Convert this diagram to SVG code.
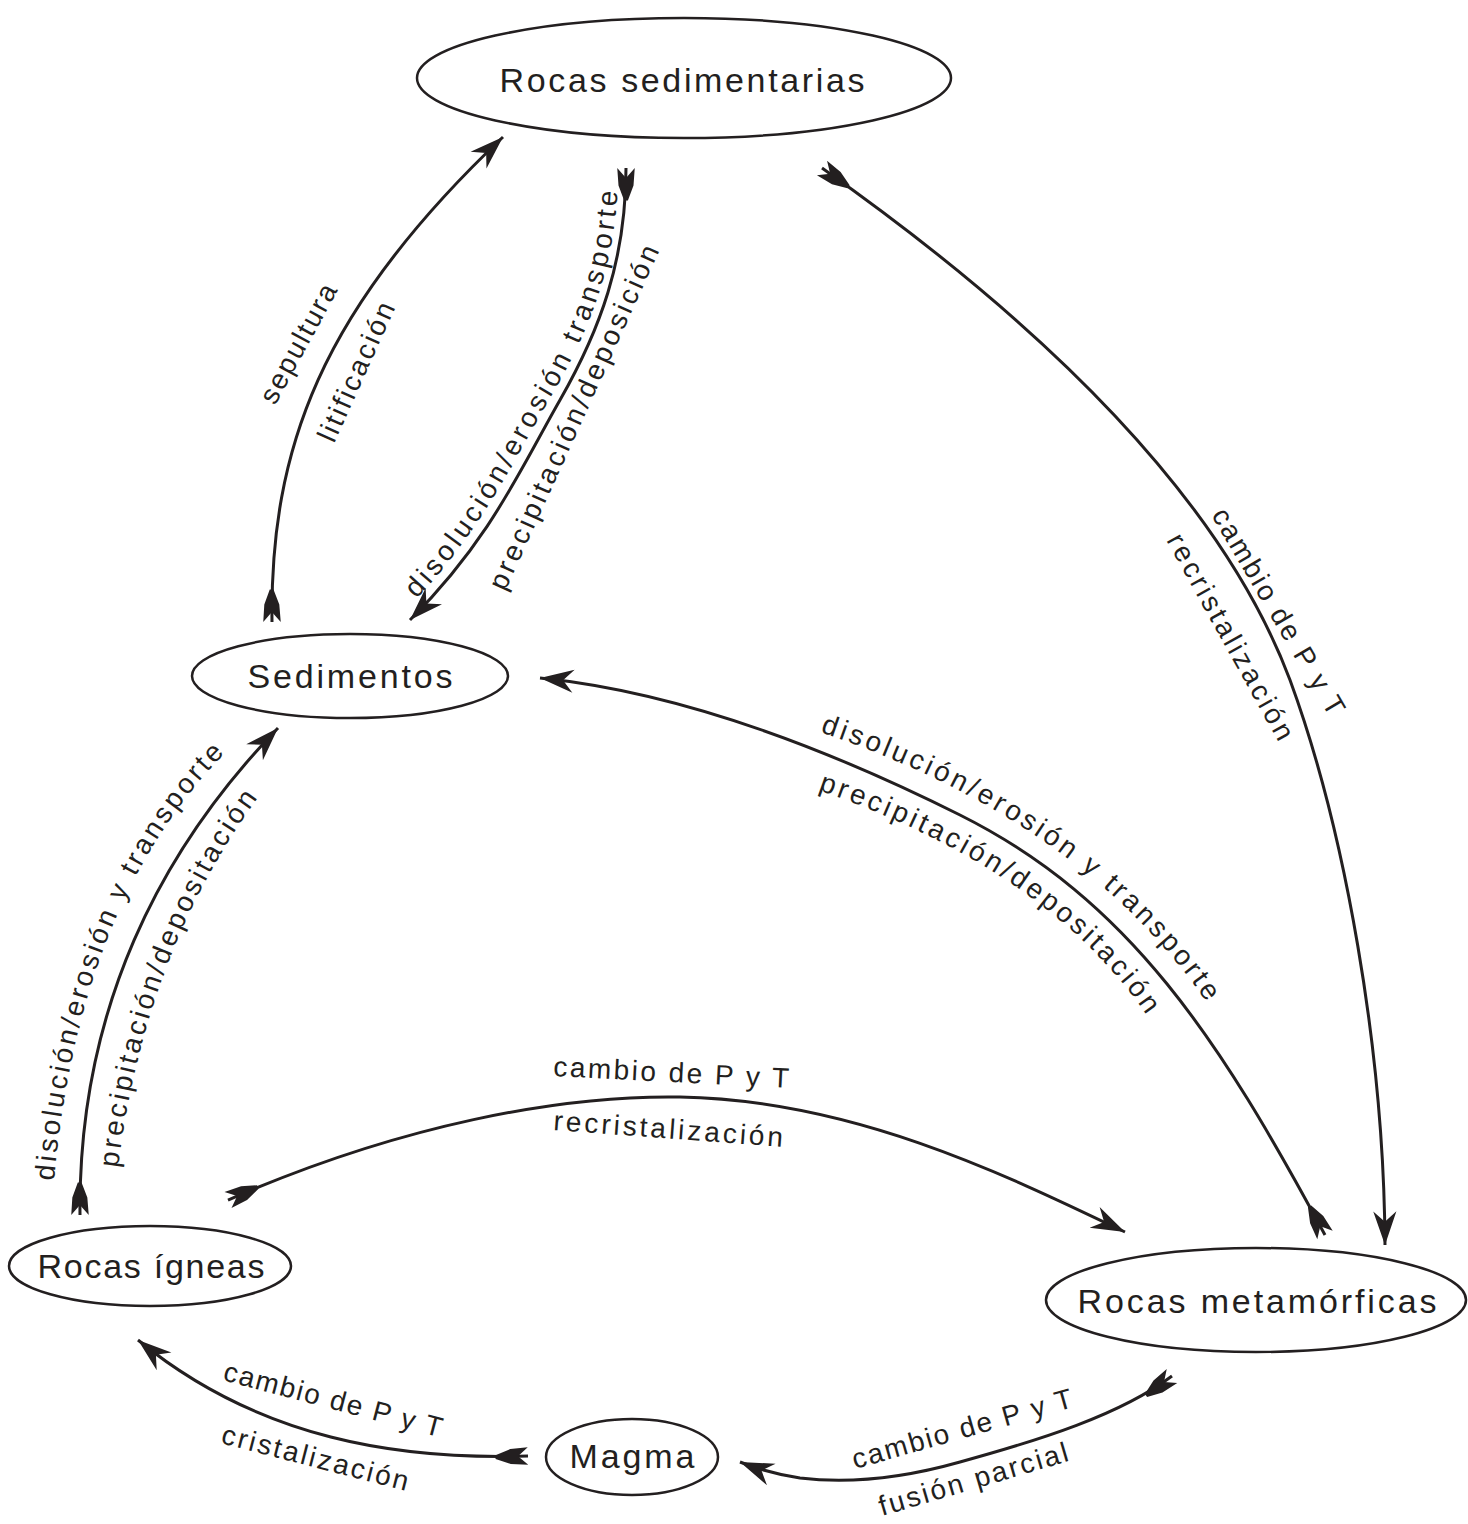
<svg xmlns="http://www.w3.org/2000/svg" xmlns:xlink="http://www.w3.org/1999/xlink" width="1468" height="1524" viewBox="0 0 1468 1524">
<style>
.node{fill:#fff;stroke:#231f20;stroke-width:2.5}
.nt{font-family:"Liberation Sans",Arial,sans-serif;font-size:34px;fill:#231f20;text-anchor:middle}
.el{font-family:"Liberation Sans",Arial,sans-serif;font-size:28px;fill:#231f20}
.c{fill:none;stroke:#231f20;stroke-width:3;marker-start:url(#tail);marker-end:url(#head)}
</style>
<defs>
<marker id="head" markerUnits="userSpaceOnUse" orient="auto" markerWidth="40" markerHeight="30" refX="0" refY="0" viewBox="-34 -14 38 28" overflow="visible">
<path d="M0,0 L-32,-11 L-22,0 L-32,11 Z" fill="#231f20"/>
</marker>
<marker id="tail" markerUnits="userSpaceOnUse" orient="auto" markerWidth="40" markerHeight="30" refX="0" refY="0" viewBox="-2 -10 32 20" overflow="visible">
<path d="M0,-7 L8,0 L0,7 L14,6 L26,1.5 L26,-1.5 L14,-6 Z" fill="#231f20"/>
</marker>
<path id="p1" d="M275,406 L338,290"/>
<path id="p2" d="M334,444 L397,304"/>
<path id="p3" d="M404,612 C482,533 511,464 552,395 C592,326 618,258 618,170"/>
<path id="p4" d="M505,592 L662,245"/>
<path id="p5" d="M1211,515 L1330,718"/>
<path id="p6" d="M1166,540 L1280,745"/>
<path id="p7" d="M820,732 Q1080,820 1205,1000"/>
<path id="p8" d="M818,790 Q1050,870 1150,1020"/>
<path id="p9" d="M54,1181 Q79,899 228,750"/>
<path id="p10" d="M118,1168 Q145,950 260,795"/>
<path id="p11" d="M553,1076 L790,1088"/>
<path id="p12" d="M553,1130 L785,1147"/>
<path id="p13" d="M222,1380 L442,1438"/>
<path id="p14" d="M220,1443 L410,1492"/>
<path id="p15" d="M855,1469 L1077,1406"/>
<path id="p16" d="M882,1516 L1072,1460"/>
</defs>
<rect width="1468" height="1524" fill="#fff"/>
<g id="connectors">
<path class="c" d="M272,622 C270,450 320,310 503,137"/>
<path class="c" d="M626,168 C626,260 600,330 560,400 C520,470 490,540 410,620"/>
<path class="c" d="M822,168 C1080,350 1230,520 1290,680 C1345,830 1384,1050 1385,1245"/>
<path class="c" d="M1325,1235 C1220,1040 1130,900 960,815 C800,735 660,690 540,678"/>
<path class="c" d="M80,1215 C78,1010 160,850 278,728"/>
<path class="c" d="M228,1200 C400,1125 560,1095 680,1097 C850,1100 1000,1172 1125,1232"/>
<path class="c" d="M528,1456 C400,1460 260,1440 138,1340"/>
<path class="c" d="M1172,1376 C1120,1415 1040,1440 960,1462 C900,1479 850,1484 800,1478 C775,1474 755,1468 740,1462"/>
</g>
<g id="labels">
<text class="el"><textPath xlink:href="#p1" textLength="132">sepultura</textPath></text>
<text class="el"><textPath xlink:href="#p2" textLength="150">litificación</textPath></text>
<text class="el"><textPath xlink:href="#p3" startOffset="18" textLength="462">disolución/erosión transporte</textPath></text>
<text class="el"><textPath xlink:href="#p4" textLength="375">precipitación/deposición</textPath></text>
<text class="el"><textPath xlink:href="#p5" textLength="235">cambio de P y T</textPath></text>
<text class="el"><textPath xlink:href="#p6" textLength="232">recristalización</textPath></text>
<text class="el"><textPath xlink:href="#p7" textLength="480">disolución/erosión y transporte</textPath></text>
<text class="el"><textPath xlink:href="#p8" textLength="405">precipitación/depositación</textPath></text>
<text class="el"><textPath xlink:href="#p9" textLength="470">disolución/erosión y transporte</textPath></text>
<text class="el"><textPath xlink:href="#p10" textLength="400">precipitación/depositación</textPath></text>
<text class="el"><textPath xlink:href="#p11" textLength="236">cambio de P y T</textPath></text>
<text class="el"><textPath xlink:href="#p12" textLength="230">recristalización</textPath></text>
<text class="el"><textPath xlink:href="#p13" textLength="225">cambio de P y T</textPath></text>
<text class="el"><textPath xlink:href="#p14" textLength="192">cristalización</textPath></text>
<text class="el"><textPath xlink:href="#p15" textLength="228">cambio de P y T</textPath></text>
<text class="el"><textPath xlink:href="#p16" textLength="196">fusión parcial</textPath></text>
</g>
<g id="n-sedimentarias"><ellipse class="node" cx="684" cy="78" rx="267" ry="60"/><text class="nt" x="682" y="92" textLength="365">Rocas sedimentarias</text></g>
<g id="n-sedimentos"><ellipse class="node" cx="350" cy="676" rx="158" ry="42"/><text class="nt" x="350" y="688" textLength="205">Sedimentos</text></g>
<g id="n-igneas"><ellipse class="node" cx="150" cy="1266" rx="141" ry="40"/><text class="nt" x="151" y="1278" textLength="227">Rocas ígneas</text></g>
<g id="n-metamorficas"><ellipse class="node" cx="1256" cy="1300" rx="210" ry="52"/><text class="nt" x="1257" y="1313" textLength="359">Rocas metamórficas</text></g>
<g id="n-magma"><ellipse class="node" cx="632" cy="1457" rx="86" ry="38"/><text class="nt" x="632" y="1468" textLength="125">Magma</text></g>
</svg>
